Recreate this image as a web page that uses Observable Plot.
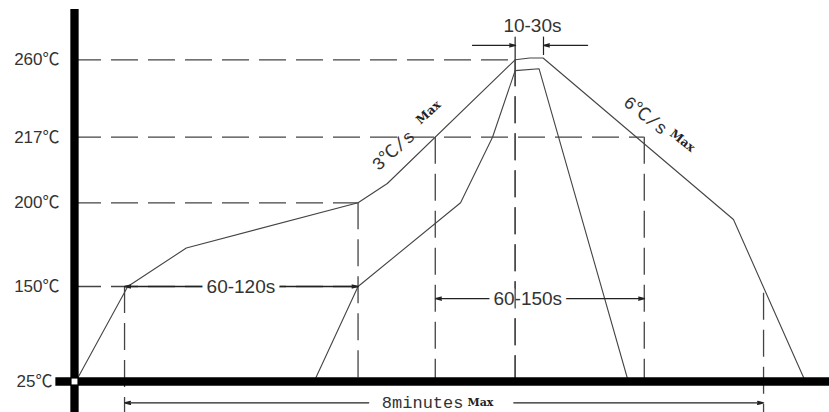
<!DOCTYPE html>
<html><head><meta charset="utf-8">
<script src="https://cdn.jsdelivr.net/npm/d3@7"></script>
<script src="https://cdn.jsdelivr.net/npm/@observablehq/plot@0.6"></script>
<style>html,body{margin:0;padding:0;background:#fff}svg{display:block}</style>
</head><body><div id="chart"></div>
<script>
// Temperature levels (°C) and their tick labels
const tempLevels = [25, 150, 200, 217, 260];
const tickLabels = ["25℃", "150℃", "200℃", "217℃", "260℃"];
// The schematic's temperature axis is not to scale: relative spacing of the levels
const levelSpacing = [0, 95, 178.7, 244.3, 321.7];

// Profile curves: time (s) / temperature (°C)
const outerTime = [1, 40, 84, 213, 235, 331, 342, 352, 495, 549];
const outerTemp = [25, 150, 173, 200, 205, 260, 261, 261, 190, 25];
const innerTime = [180, 213, 290, 314, 331, 349, 416];
const innerTemp = [25, 150, 200, 217, 254, 255, 25];

// Horizontal dashed guides (temperature, time where they stop)
const guideTemp = [260, 217, 200, 150];
const guideEnd = [331, 428, 213, 213];

// Vertical dashed guides (time, top temp, bottom temp)
const markTime = [37.6, 213, 271, 331, 428, 517.6];
const markTop = [150, 200, 217, 260, 217, 141];
const markBottom = [-16, 25, 25, 25, 25, -16];

// Short solid extension lines for the 10-30s window
const extTime = [331, 352.3];
const extTop = [273.6, 273.6];
const extBottom = [260, 262.4];

// Dimension arrows (from time, to time, at temperature)
const arrowFrom = [125, 125, 340.5, 340.5, 299, 385.4, 221, 330];
const arrowTo = [37.6, 213, 271.2, 428.2, 331.3, 352.3, 37.6, 517.6];
const arrowTemp = [150, 150, 134, 134, 268, 268, -3, -3];

// Dimension labels
const dimLabels = ["60-120s", "60-150s", "10-30s"];
const dimLabelTime = [125, 340.5, 344];
const dimLabelTemp = [150, 134, 279];

// Slope labels (rate part and "Max" suffix)
const slopeLabels = ["3℃/s", "6℃/s"];
const slopeTime = [239.6, 428.9];
const slopeTemp = [213.6, 229.1];
const slopeAngle = [-42, 38.5];
const slopeMaxTime = [265.9, 456.7];
const slopeMaxTemp = [230.8, 216.1];

// Total duration label
const totalLabel = "8minutes";
const totalSuffix = "Max";
const totalTime = 293.7;
const totalTemp = -3;

const warp = d3.scaleLinear().domain(tempLevels).range(levelSpacing);

const outer = outerTime.map((t, i) => ({t, T: outerTemp[i]}));
const inner = innerTime.map((t, i) => ({t, T: innerTemp[i]}));
const guides = guideTemp.map((T, i) => ({T, x2: guideEnd[i]}));
const marks = markTime.map((t, i) => ({t, y1: markTop[i], y2: markBottom[i]}));
const exts = extTime.map((t, i) => ({t, y1: extTop[i], y2: extBottom[i]}));
const arrows = arrowFrom.map((f, i) => ({x1: f, x2: arrowTo[i], T: arrowTemp[i]}));
const dims = dimLabels.map((s, i) => ({s, t: dimLabelTime[i], T: dimLabelTemp[i]}));
const ticks = tempLevels.map((T, i) => ({T, s: tickLabels[i]}));

const ink = "#222";
const dash = "27,10";
const sans = "'Liberation Sans', 'Noto Sans CJK SC', sans-serif";
const mono = "'Liberation Mono', 'Noto Sans CJK SC', monospace";

const slopeMarks = slopeLabels.flatMap((s, i) => [
  Plot.text([s], {x: slopeTime[i], y: slopeTemp[i], text: d => d, rotate: slopeAngle[i], fontFamily: mono, fontSize: 18, fill: "#333"}),
  Plot.text(["Max"], {x: slopeMaxTime[i], y: slopeMaxTemp[i], text: d => d, rotate: slopeAngle[i], fontFamily: "DejaVu Serif", fontWeight: "bold", fontSize: 12, fill: ink})
]);

const chart = Plot.plot({
  width: 829,
  height: 412,
  marginLeft: 74, marginRight: 0, marginTop: 9, marginBottom: 0,
  x: {domain: [0, 480], range: [74, 713], axis: null},
  y: {type: "linear", transform: warp, domain: [levelSpacing[0], levelSpacing[4]], range: [381, 59.3], axis: null},
  style: {background: "#fff", color: ink},
  marks: [
    Plot.ruleY(guides, {y: "T", x1: 0, x2: "x2", stroke: "#444", strokeWidth: 1.3, strokeDasharray: dash}),
    Plot.ruleX(marks, {x: "t", y1: "y1", y2: "y2", stroke: "#444", strokeWidth: 1.3, strokeDasharray: dash}),
    Plot.ruleX(exts, {x: "t", y1: "y1", y2: "y2", stroke: ink, strokeWidth: 1.2}),
    Plot.line(outer, {x: "t", y: "T", stroke: "#444", strokeWidth: 1.1}),
    Plot.line(inner, {x: "t", y: "T", stroke: "#444", strokeWidth: 1.1}),
    Plot.arrow(arrows, {x1: "x1", x2: "x2", y1: "T", y2: "T", stroke: ink, strokeWidth: 1.3, headLength: 7, headAngle: 28}),
    Plot.text(dims, {x: "t", y: "T", text: "s", fontFamily: sans, fontSize: 19, fill: "#333", stroke: "white", strokeWidth: 10}),
    Plot.ruleX(marks.filter(d => d.t === 331), {x: "t", y1: "y1", y2: "y2", stroke: "#444", strokeWidth: 1.3, strokeDasharray: dash}),
    ...slopeMarks,
    Plot.text([totalLabel], {x: totalTime, y: totalTemp, text: d => d, textAnchor: "end", dx: -2, fontFamily: mono, fontSize: 17, fill: "#333"}),
    Plot.text([totalSuffix], {x: totalTime, y: totalTemp, text: d => d, textAnchor: "start", dx: 2, fontFamily: "DejaVu Serif", fontWeight: "bold", fontSize: 11, fill: ink}),
    Plot.ruleX([0], {stroke: "#000", strokeWidth: 8.3}),
    Plot.ruleY([25], {x1: -14, x2: 570, stroke: "#000", strokeWidth: 8.3}),
    Plot.dot([{t: 0, T: 25}], {x: "t", y: "T", symbol: "square", r: 3.3, fill: "white", stroke: null}),
    Plot.text(ticks.filter(d => d.T !== 25), {x: 0, y: "T", text: "s", textAnchor: "end", dx: -15, fontFamily: sans, fontSize: 17, fill: "#333"}),
    Plot.text(ticks.filter(d => d.T === 25), {x: 0, y: "T", text: "s", textAnchor: "end", dx: -22, fontFamily: sans, fontSize: 17, fill: "#333"})
  ]
});
document.getElementById("chart").appendChild(chart);
</script>
</body></html>
